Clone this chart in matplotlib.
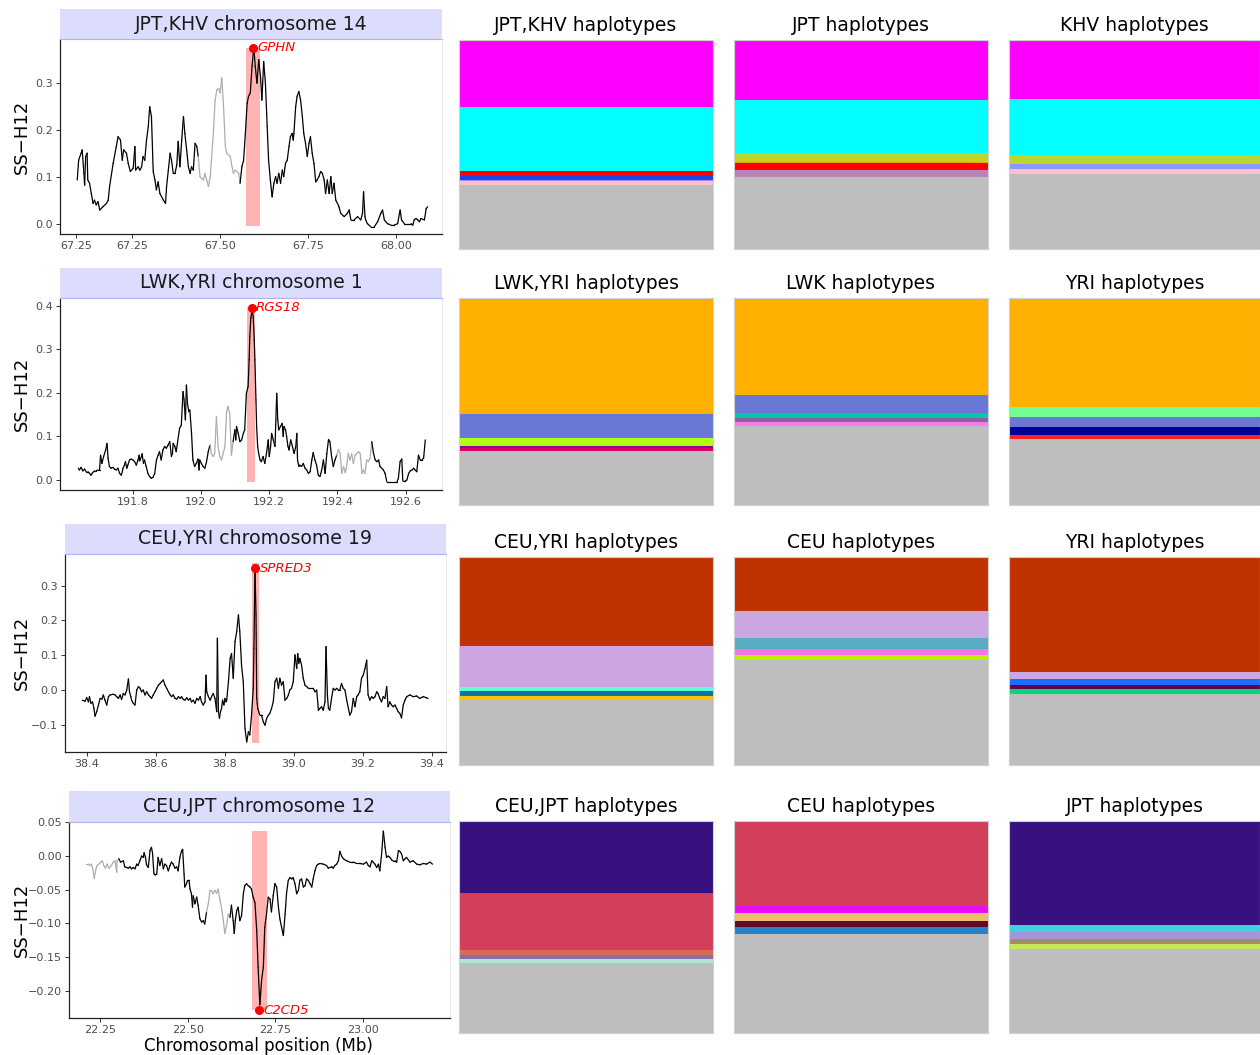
import matplotlib
matplotlib.use("Agg")
import matplotlib.pyplot as plt
from matplotlib.collections import LineCollection
from matplotlib.patches import Rectangle
from matplotlib.ticker import FixedLocator, FuncFormatter

plt.rcParams['font.family'] = ['DejaVu Sans']

# ---------------- Panel 1: JPT,KHV chromosome 14 ----------------
title_1 = "JPT,KHV chromosome 14"
pos_1 = [67.094,67.098,67.105,67.108,67.113,67.115,67.118,67.122,67.124,67.129,
         67.134,67.139,67.143,67.148,67.153,67.158,67.167,67.177,67.182,67.186,
         67.196,67.205,67.210,67.217,67.222,67.226,67.234,67.239,67.245,67.253,
         67.258,67.260,67.267,67.272,67.277,67.281,67.286,67.291,67.296,67.300,
         67.305,67.310,67.315,67.319,67.324,67.329,67.339,67.345,67.348,67.353,
         67.358,67.362,67.367,67.372,67.377,67.381,67.386,67.391,67.396,67.400,
         67.405,67.410,67.415,67.419,67.424,67.429,67.434,67.438,67.443,67.448,
         67.453,67.457,67.462,67.467,67.472,67.481,67.486,67.491,67.496,67.500,
         67.505,67.510,67.515,67.519,67.529,67.534,67.538,67.543,67.553,67.557,
         67.562,67.567,67.572,67.577,67.581,67.586,67.591,67.596,67.600,67.605,
         67.610,67.615,67.619,67.624,67.629,67.634,67.638,67.643,67.648,67.653,
         67.658,67.662,67.667,67.672,67.677,67.681,67.686,67.691,67.696,67.700,
         67.705,67.708,67.710,67.715,67.719,67.724,67.729,67.734,67.738,67.743,
         67.748,67.753,67.757,67.762,67.767,67.772,67.776,67.781,67.786,67.791,
         67.796,67.800,67.805,67.810,67.815,67.819,67.824,67.829,67.834,67.838,
         67.843,67.853,67.862,67.867,67.872,67.881,67.891,67.900,67.905,67.908,
         67.912,67.914,67.919,67.929,67.938,67.948,67.957,67.962,67.967,67.976,
         67.986,67.995,68.005,68.010,68.012,68.016,68.024,68.033,68.043,68.048,
         68.052,68.057,68.062,68.067,68.071,68.081,68.086,68.090]
h12_1 = [0.094,0.136,0.151,0.158,0.108,0.083,0.144,0.151,0.094,0.087,
         0.065,0.044,0.051,0.041,0.048,0.030,0.037,0.044,0.051,0.080,
         0.129,0.165,0.186,0.179,0.136,0.158,0.151,0.129,0.112,0.119,
         0.165,0.115,0.122,0.115,0.122,0.144,0.136,0.179,0.208,0.250,
         0.229,0.112,0.094,0.073,0.090,0.065,0.051,0.044,0.080,0.115,
         0.151,0.136,0.108,0.108,0.126,0.176,0.122,0.179,0.229,0.193,
         0.158,0.122,0.108,0.122,0.115,0.172,0.165,0.144,0.101,0.097,
         0.094,0.108,0.094,0.080,0.101,0.193,0.264,0.286,0.289,0.279,
         0.311,0.250,0.165,0.151,0.144,0.122,0.108,0.115,0.108,0.087,
         0.122,0.136,0.193,0.257,0.272,0.279,0.336,0.376,0.336,0.300,
         0.350,0.314,0.264,0.346,0.300,0.208,0.136,0.094,0.058,0.087,
         0.101,0.087,0.108,0.087,0.115,0.101,0.129,0.136,0.165,0.186,
         0.193,0.179,0.193,0.250,0.272,0.282,0.264,0.229,0.193,0.172,
         0.144,0.172,0.186,0.151,0.129,0.090,0.094,0.101,0.112,0.108,
         0.094,0.065,0.094,0.065,0.101,0.065,0.087,0.051,0.044,0.037,
         0.023,0.016,0.023,0.030,0.009,0.009,0.016,0.009,0.023,0.069,
         0.016,0.009,0.001,-0.006,-0.006,0.005,0.023,0.030,0.009,0.001,
         -0.002,-0.002,0.001,0.023,0.030,0.009,0.001,0.001,0.001,-0.002,
         0.009,0.012,0.009,0.005,0.012,0.009,0.033,0.037]
gray_1 = [(67.440, 67.555)]
box_1 = (67.574, 67.614, -0.004, 0.375)
gene_1 = ("GPHN", 67.594, 0.375)
xticks_1 = [67.09, 67.25, 67.50, 67.75, 68.00]
xlabels_1 = ["67.25", "67.25", "67.50", "67.75", "68.00"]
yticks_1 = [0.0, 0.1, 0.2, 0.3]

# ---------------- Panel 2: LWK,YRI chromosome 1 ----------------
title_2 = "LWK,YRI chromosome 1"
pos_2 = [191.640,191.643,191.648,191.653,191.658,191.663,191.668,191.673,191.677,191.682,
         191.687,191.692,191.697,191.702,191.705,191.709,191.714,191.720,191.724,191.727,
         191.731,191.736,191.741,191.746,191.751,191.756,191.761,191.766,191.771,191.775,
         191.778,191.782,191.785,191.790,191.795,191.800,191.805,191.810,191.815,191.818,
         191.820,191.825,191.827,191.831,191.834,191.839,191.844,191.849,191.854,191.859,
         191.864,191.869,191.874,191.878,191.883,191.888,191.893,191.898,191.903,191.908,
         191.913,191.916,191.918,191.923,191.927,191.937,191.942,191.947,191.950,191.954,
         191.957,191.960,191.964,191.967,191.972,191.976,191.981,191.986,191.991,191.994,
         191.996,192.001,192.006,192.011,192.016,192.021,192.025,192.027,192.030,192.035,
         192.040,192.045,192.050,192.055,192.060,192.065,192.070,192.075,192.079,192.084,
         192.089,192.094,192.099,192.102,192.104,192.109,192.114,192.119,192.124,192.128,
         192.133,192.138,192.141,192.143,192.146,192.150,192.153,192.156,192.158,192.161,
         192.163,192.166,192.169,192.173,192.177,192.182,192.187,192.192,192.197,192.200,
         192.204,192.207,192.212,192.217,192.222,192.225,192.228,192.233,192.238,192.241,
         192.243,192.248,192.251,192.255,192.258,192.263,192.268,192.273,192.278,192.281,
         192.283,192.287,192.290,192.295,192.300,192.305,192.310,192.315,192.320,192.325,
         192.329,192.334,192.339,192.344,192.349,192.354,192.359,192.364,192.369,192.374,
         192.378,192.383,192.388,192.393,192.398,192.403,192.408,192.413,192.418,192.423,
         192.427,192.432,192.437,192.442,192.447,192.452,192.457,192.462,192.467,192.472,
         192.476,192.481,192.486,192.491,192.496,192.501,192.506,192.511,192.516,192.521,
         192.525,192.535,192.540,192.545,192.555,192.565,192.575,192.579,192.584,192.589,
         192.592,192.599,192.604,192.609,192.614,192.619,192.624,192.628,192.633,192.638,
         192.643,192.648,192.653,192.658]
h12_2 = [0.027,0.023,0.029,0.021,0.025,0.019,0.019,0.015,0.011,0.017,
         0.021,0.021,0.023,0.023,0.057,0.038,0.054,0.069,0.084,0.050,
         0.031,0.027,0.029,0.025,0.023,0.027,0.015,0.011,0.027,0.034,
         0.042,0.027,0.034,0.046,0.048,0.046,0.042,0.034,0.046,0.057,
         0.044,0.054,0.060,0.038,0.046,0.031,0.015,0.008,0.004,0.006,
         0.015,0.046,0.057,0.065,0.046,0.069,0.077,0.073,0.080,0.088,
         0.054,0.061,0.084,0.077,0.065,0.119,0.126,0.203,0.184,0.138,
         0.218,0.176,0.157,0.161,0.107,0.046,0.031,0.038,0.048,0.023,
         0.046,0.038,0.031,0.027,0.042,0.065,0.077,0.080,0.061,0.054,
         0.061,0.146,0.077,0.054,0.046,0.061,0.077,0.157,0.169,0.153,
         0.057,0.088,0.115,0.092,0.123,0.107,0.088,0.092,0.107,0.115,
         0.199,0.215,0.276,0.330,0.372,0.390,0.375,0.322,0.276,0.184,
         0.123,0.077,0.061,0.046,0.042,0.054,0.038,0.061,0.092,0.054,
         0.077,0.107,0.092,0.077,0.199,0.138,0.115,0.123,0.130,0.100,
         0.123,0.115,0.100,0.077,0.069,0.092,0.077,0.061,0.077,0.107,
         0.046,0.031,0.034,0.031,0.038,0.027,0.023,0.015,0.019,0.046,
         0.063,0.046,0.034,0.011,0.008,0.023,0.046,0.015,0.061,0.093,
         0.088,0.054,0.031,0.046,0.057,0.070,0.061,0.015,0.031,0.017,
         0.031,0.061,0.046,0.060,0.038,0.057,0.061,0.065,0.061,0.015,
         0.023,0.015,0.046,0.042,0.050,0.088,0.061,0.046,0.042,0.046,
         0.031,0.023,0.015,-0.004,-0.004,-0.004,-0.004,0.004,0.042,0.048,
         -0.002,-0.002,0.000,0.015,0.021,0.023,0.027,0.023,0.019,0.057,
         0.046,0.046,0.050,0.092]
gray_2 = [(192.028, 192.096), (192.398, 192.502)]
box_2 = (192.136, 192.158, -0.004, 0.398)
gene_2 = ("RGS18", 192.148, 0.396)
xticks_2 = [191.8, 192.0, 192.2, 192.4, 192.6]
xlabels_2 = ["191.8", "192.0", "192.2", "192.4", "192.6"]
yticks_2 = [0.0, 0.1, 0.2, 0.3, 0.4]

# ---------------- Panel 3: CEU,YRI chromosome 19 ----------------
title_3 = "CEU,YRI chromosome 19"
pos_3 = [38.386,38.394,38.399,38.404,38.407,38.411,38.416,38.420,38.423,38.428,
         38.433,38.438,38.443,38.447,38.452,38.457,38.462,38.467,38.476,38.481,
         38.486,38.491,38.496,38.500,38.505,38.510,38.515,38.520,38.523,38.527,
         38.529,38.534,38.539,38.544,38.549,38.554,38.558,38.563,38.568,38.573,
         38.578,38.583,38.587,38.592,38.597,38.602,38.607,38.612,38.616,38.621,
         38.626,38.631,38.636,38.641,38.645,38.650,38.655,38.660,38.665,38.670,
         38.674,38.679,38.684,38.689,38.694,38.699,38.703,38.708,38.713,38.718,
         38.723,38.728,38.732,38.737,38.742,38.745,38.747,38.752,38.757,38.761,
         38.766,38.771,38.776,38.778,38.781,38.784,38.787,38.790,38.793,38.797,
         38.800,38.803,38.805,38.810,38.815,38.819,38.824,38.829,38.834,38.839,
         38.843,38.848,38.853,38.858,38.863,38.868,38.872,38.877,38.882,38.884,
         38.887,38.890,38.892,38.895,38.898,38.901,38.906,38.911,38.916,38.921,
         38.926,38.930,38.935,38.940,38.945,38.950,38.955,38.959,38.964,38.969,
         38.974,38.979,38.984,38.988,38.993,38.998,39.003,39.008,39.011,39.014,
         39.017,39.022,39.027,39.032,39.037,39.042,39.046,39.056,39.061,39.066,
         39.071,39.075,39.080,39.085,39.090,39.093,39.097,39.100,39.104,39.109,
         39.114,39.119,39.124,39.129,39.133,39.138,39.143,39.148,39.153,39.158,
         39.162,39.167,39.172,39.177,39.182,39.186,39.191,39.196,39.201,39.206,
         39.211,39.215,39.220,39.225,39.230,39.235,39.240,39.244,39.249,39.254,
         39.259,39.264,39.269,39.273,39.278,39.283,39.288,39.293,39.298,39.302,
         39.307,39.312,39.317,39.322,39.327,39.336,39.346,39.356,39.365,39.375,
         39.384,39.389]
h12_3 = [-0.029,-0.032,-0.022,-0.034,-0.019,-0.038,-0.034,-0.053,-0.075,-0.062,
         -0.043,-0.024,-0.026,-0.014,-0.029,-0.043,-0.019,-0.014,-0.012,-0.014,
         -0.019,-0.024,-0.014,-0.027,-0.010,-0.014,0.000,0.032,-0.005,-0.019,
         -0.029,-0.038,-0.043,0.000,0.010,0.005,-0.005,0.000,-0.014,-0.005,
         -0.014,-0.019,-0.024,-0.014,-0.005,0.005,0.014,0.019,0.024,0.029,
         0.014,0.005,-0.005,-0.014,-0.019,-0.014,-0.024,-0.026,-0.019,-0.024,
         -0.019,-0.027,-0.029,-0.022,-0.029,-0.024,-0.034,-0.029,-0.038,-0.024,
         -0.029,-0.019,-0.034,-0.043,-0.034,0.043,-0.005,-0.019,-0.029,-0.019,
         -0.010,-0.024,-0.062,0.149,-0.062,-0.081,-0.062,-0.053,-0.029,-0.043,
         -0.024,-0.034,-0.029,0.024,0.091,0.105,0.034,0.139,0.168,0.216,
         0.168,0.072,0.024,-0.110,-0.149,-0.120,-0.129,-0.072,0.005,0.120,
         0.345,0.216,-0.024,-0.053,-0.062,-0.072,-0.072,-0.091,-0.101,-0.081,
         -0.072,-0.067,-0.053,-0.034,0.024,0.034,0.005,0.034,0.014,0.024,
         -0.029,-0.024,-0.014,0.000,0.005,0.024,0.101,0.062,0.105,0.077,
         0.091,0.072,0.034,0.014,0.010,0.005,0.005,0.005,-0.005,0.000,
         -0.058,-0.053,-0.048,-0.058,-0.034,0.125,-0.014,-0.053,-0.058,-0.024,
         0.005,0.000,0.005,0.000,0.000,0.019,0.005,0.000,-0.029,-0.053,
         -0.072,-0.062,-0.024,-0.048,-0.019,-0.014,-0.005,0.034,0.043,0.062,
         0.086,-0.014,-0.029,-0.019,-0.024,-0.019,-0.005,-0.010,-0.024,-0.034,
         -0.019,-0.024,0.010,-0.048,-0.034,-0.043,-0.048,-0.043,-0.053,-0.062,
         -0.067,-0.080,-0.043,-0.029,-0.019,-0.014,-0.019,-0.017,-0.024,-0.019,
         -0.022,-0.024]
gray_3 = []
box_3 = (38.879, 38.899, -0.153, 0.364)
gene_3 = ("SPRED3", 38.888, 0.350)
xticks_3 = [38.4, 38.6, 38.8, 39.0, 39.2, 39.4]
xlabels_3 = ["38.4", "38.6", "38.8", "39.0", "39.2", "39.4"]
yticks_3 = [-0.1, 0.0, 0.1, 0.2, 0.3]

# ---------------- Panel 4: CEU,JPT chromosome 12 ----------------
title_4 = "CEU,JPT chromosome 12"
pos_4 = [22.210,22.217,22.221,22.226,22.231,22.234,22.238,22.242,22.247,22.252,
         22.257,22.261,22.266,22.271,22.276,22.283,22.288,22.293,22.298,22.299,
         22.304,22.309,22.317,22.321,22.326,22.331,22.336,22.340,22.345,22.350,
         22.355,22.359,22.364,22.369,22.374,22.376,22.380,22.383,22.388,22.393,
         22.397,22.400,22.404,22.407,22.412,22.416,22.421,22.426,22.431,22.435,
         22.440,22.445,22.450,22.454,22.459,22.464,22.469,22.473,22.478,22.483,
         22.486,22.490,22.492,22.497,22.500,22.504,22.507,22.511,22.514,22.516,
         22.521,22.526,22.530,22.535,22.540,22.545,22.549,22.554,22.559,22.564,
         22.568,22.573,22.578,22.583,22.587,22.592,22.597,22.602,22.606,22.611,
         22.616,22.621,22.625,22.630,22.633,22.636,22.640,22.644,22.649,22.654,
         22.659,22.663,22.668,22.673,22.678,22.682,22.687,22.692,22.697,22.701,
         22.706,22.711,22.716,22.720,22.725,22.730,22.735,22.739,22.744,22.749,
         22.754,22.759,22.763,22.768,22.773,22.778,22.782,22.787,22.792,22.797,
         22.801,22.806,22.811,22.816,22.820,22.825,22.830,22.835,22.839,22.844,
         22.849,22.854,22.858,22.863,22.868,22.873,22.877,22.887,22.896,22.901,
         22.906,22.911,22.915,22.920,22.925,22.930,22.934,22.939,22.944,22.953,
         22.963,22.972,22.982,22.991,23.001,23.010,23.015,23.020,23.025,23.029,
         23.034,23.039,23.044,23.048,23.053,23.058,23.063,23.067,23.072,23.077,
         23.082,23.086,23.091,23.096,23.101,23.105,23.110,23.115,23.120,23.124,
         23.134,23.143,23.153,23.162,23.172,23.181,23.191,23.198]
h12_4 = [-0.012,-0.012,-0.014,-0.012,-0.022,-0.033,-0.021,-0.014,-0.012,-0.009,
         -0.007,-0.014,-0.018,-0.012,-0.018,-0.014,-0.009,-0.007,-0.024,-0.007,
         -0.004,-0.009,-0.007,-0.016,-0.017,-0.018,-0.016,-0.019,-0.017,-0.019,
         -0.012,-0.014,-0.007,0.000,-0.002,0.005,-0.002,-0.013,-0.017,0.008,
         0.013,0.005,-0.026,-0.028,-0.027,-0.002,-0.014,-0.004,-0.019,-0.012,
         -0.014,-0.022,-0.014,-0.009,-0.012,-0.018,-0.016,-0.022,-0.002,0.008,
         0.010,-0.027,-0.046,-0.041,-0.036,-0.036,-0.049,-0.056,-0.076,-0.059,
         -0.071,-0.061,-0.073,-0.093,-0.098,-0.096,-0.101,-0.083,-0.071,-0.051,
         -0.051,-0.056,-0.051,-0.055,-0.049,-0.064,-0.078,-0.096,-0.115,-0.103,
         -0.086,-0.091,-0.073,-0.096,-0.115,-0.096,-0.081,-0.076,-0.096,-0.088,
         -0.056,-0.044,-0.041,-0.044,-0.046,-0.049,-0.061,-0.069,-0.110,-0.165,
         -0.221,-0.184,-0.165,-0.106,-0.086,-0.061,-0.064,-0.083,-0.059,-0.041,
         -0.046,-0.076,-0.093,-0.106,-0.118,-0.086,-0.056,-0.036,-0.032,-0.034,
         -0.032,-0.041,-0.056,-0.051,-0.036,-0.034,-0.046,-0.044,-0.034,-0.036,
         -0.041,-0.046,-0.034,-0.022,-0.014,-0.012,-0.011,-0.012,-0.014,-0.018,
         -0.017,-0.016,-0.018,-0.014,-0.012,-0.007,0.007,0.000,-0.004,-0.007,
         -0.009,-0.009,-0.011,-0.011,-0.012,-0.009,-0.014,-0.016,-0.007,-0.009,
         -0.012,-0.017,-0.012,-0.022,0.003,0.037,0.013,-0.002,0.000,-0.002,
         -0.006,-0.007,-0.007,-0.009,0.008,0.007,0.003,-0.007,-0.004,-0.002,
         -0.009,-0.007,-0.012,-0.013,-0.011,-0.012,-0.009,-0.012]
gray_4 = [(22.200, 22.305), (22.556, 22.622)]
box_4 = (22.684, 22.725, -0.229, 0.0365)
gene_4 = ("C2CD5", 22.704, -0.229)
xticks_4 = [22.25, 22.50, 22.75, 23.00]
xlabels_4 = ["22.25", "22.50", "22.75", "23.00"]
yticks_4 = [-0.20, -0.15, -0.10, -0.05, 0.00, 0.05]

# ---------------- Haplotype frequency bars (top to bottom) ----------------
hap_titles = [["JPT,KHV haplotypes", "JPT haplotypes", "KHV haplotypes"],
              ["LWK,YRI haplotypes", "LWK haplotypes", "YRI haplotypes"],
              ["CEU,YRI haplotypes", "CEU haplotypes", "YRI haplotypes"],
              ["CEU,JPT haplotypes", "CEU haplotypes", "JPT haplotypes"]]
freq_jk_all = [0.320, 0.307, 0.022, 0.019, 0.005, 0.019]
col_jk_all = ['#FF00FF', '#00FFFF', '#FF0000', '#1A44E6', '#9D8CFF', '#FFC0CB']
freq_jpt1 = [0.287, 0.255, 0.041, 0.005, 0.032, 0.035]
col_jpt1 = ['#FF00FF', '#00FFFF', '#BDD62B', '#E8A000', '#FF0000', '#BB80B4']
freq_khv = [0.282, 0.268, 0.041, 0.025, 0.024]
col_khv = ['#FF00FF', '#00FFFF', '#BDD62B', '#8899FF', '#FFC0CB']
freq_ly_all = [0.561, 0.117, 0.035, 0.011, 0.016]
col_ly_all = ['#FFB000', '#6878D4', '#AEFF1A', '#8F0095', '#D9006C']
freq_lwk = [0.469, 0.087, 0.026, 0.019, 0.019]
col_lwk = ['#FFB000', '#6878D4', '#00C9A5', '#8F5FA2', '#F37CF2']
freq_yri1 = [0.527, 0.050, 0.047, 0.039, 0.019]
col_yri1 = ['#FFB000', '#70FF93', '#6878D4', '#000096', '#FF2020']
freq_cy_all = [0.426, 0.200, 0.019, 0.021, 0.018]
col_cy_all = ['#C03300', '#CBA6E3', '#5FFFD7', '#0A73A8', '#FFC200']
freq_ceu1 = [0.261, 0.128, 0.054, 0.027, 0.024]
col_ceu1 = ['#C03300', '#CBA6E3', '#5AACC2', '#F472EC', '#BFF000']
freq_yri2 = [0.554, 0.034, 0.027, 0.022, 0.021]
col_yri2 = ['#C03300', '#CBA6E3', '#1E6BFF', '#640055', '#00D67A']
freq_cj_all = [0.338, 0.270, 0.024, 0.019, 0.017]
col_cj_all = ['#36117F', '#D33F5B', '#D46E52', '#8B6CA3', '#B3E6D2']
freq_ceu2 = [0.400, 0.036, 0.035, 0.030, 0.031]
col_ceu2 = ['#D33F5B', '#E80CF8', '#EAC06E', '#5E0A2A', '#2381C9']
freq_jpt2 = [0.490, 0.035, 0.031, 0.024, 0.024]
col_jpt2 = ['#36117F', '#3FCFE0', '#A595D8', '#A19065', '#C6E85B']
other_color = '#BEBEBE'

hap_freqs = [[freq_jk_all, freq_jpt1, freq_khv],
             [freq_ly_all, freq_lwk, freq_yri1],
             [freq_cy_all, freq_ceu1, freq_yri2],
             [freq_cj_all, freq_ceu2, freq_jpt2]]
hap_cols = [[col_jk_all, col_jpt1, col_khv],
            [col_ly_all, col_lwk, col_yri1],
            [col_cy_all, col_ceu1, col_yri2],
            [col_cj_all, col_ceu2, col_jpt2]]

# ---------------- Layout ----------------
W, H = 1260, 1055
fig = plt.figure(figsize=(W / 100, H / 100), dpi=100)


def px_axes(x0, y0, x1, y1):
    return fig.add_axes([x0 / W, 1 - y1 / H, (x1 - x0) / W, (y1 - y0) / H])


def minus_fmt(fmt):
    return FuncFormatter(lambda v, p: (fmt % v).replace('-', '\u2212'))


line_panels = [
    dict(title=title_1, x=pos_1, y=h12_1, gray=gray_1, box=box_1, gene=gene_1,
         xt=xticks_1, xl=xlabels_1, yt=yticks_1, yf='%.1f',
         xlim=(67.045, 68.131), ylim=(-0.021, 0.394),
         ax=(60, 39, 442, 234), strip=(60, 9, 442, 39)),
    dict(title=title_2, x=pos_2, y=h12_2, gray=gray_2, box=box_2, gene=gene_2,
         xt=xticks_2, xl=xlabels_2, yt=yticks_2, yf='%.1f',
         xlim=(191.586, 192.707), ylim=(-0.023, 0.418),
         ax=(60, 298, 442, 490), strip=(60, 268, 442, 298)),
    dict(title=title_3, x=pos_3, y=h12_3, gray=gray_3, box=box_3, gene=gene_3,
         xt=xticks_3, xl=xlabels_3, yt=yticks_3, yf='%.1f',
         xlim=(38.336, 39.441), ylim=(-0.178, 0.391),
         ax=(65, 554, 446, 752), strip=(65, 524, 446, 554)),
    dict(title=title_4, x=pos_4, y=h12_4, gray=gray_4, box=box_4, gene=gene_4,
         xt=xticks_4, xl=xlabels_4, yt=yticks_4, yf='%.2f',
         xlim=(22.162, 23.248), ylim=(-0.2406, 0.0506),
         ax=(69, 822, 450, 1018), strip=(69, 791, 450, 822)),
]

for i, p in enumerate(line_panels):
    ax = px_axes(*p['ax'])
    xs, ys = p['x'], p['y']
    segs, cols = [], []
    for j in range(len(xs) - 1):
        mid = 0.5 * (xs[j] + xs[j + 1])
        is_gray = any(a <= mid <= b for a, b in p['gray'])
        segs.append([(xs[j], ys[j]), (xs[j + 1], ys[j + 1])])
        cols.append('#ADADAD' if is_gray else 'black')
    bx0, bx1, by0, by1 = p['box']
    ax.add_patch(Rectangle((bx0, by0), bx1 - bx0, by1 - by0,
                           facecolor='#FFB3B3', edgecolor='none', zorder=1))
    lc = LineCollection(segs, colors=cols, linewidths=0.9, zorder=2,
                        capstyle='round', joinstyle='round')
    ax.add_collection(lc)
    gname, gx, gy = p['gene']
    ax.plot([gx], [gy], 'o', color='#FF0000', markersize=5.5, zorder=3,
            clip_on=False)
    ax.annotate(gname, (gx, gy), xytext=(3, 0), textcoords='offset points',
                ha='left', va='center', color='#FF0000', fontsize=9.5,
                fontstyle='italic', zorder=4)
    ax.set_xlim(*p['xlim'])
    ax.set_ylim(*p['ylim'])
    ax.xaxis.set_major_locator(FixedLocator(p['xt']))
    ax.set_xticklabels(p['xl'])
    ax.yaxis.set_major_locator(FixedLocator(p['yt']))
    ax.yaxis.set_major_formatter(minus_fmt(p['yf']))
    ax.spines['top'].set_visible(False)
    ax.spines['right'].set_color('#E4E4E4')
    ax.spines['right'].set_linewidth(0.6)
    for s in ['left', 'bottom']:
        ax.spines[s].set_color('#222222')
        ax.spines[s].set_linewidth(0.9)
    ax.tick_params(axis='both', labelsize=8, labelcolor='#4D4D4D',
                   color='#333333', length=3, width=0.7, pad=2)
    ax.set_facecolor('white')
    # strip
    sx0, sy0, sx1, sy1 = p['strip']
    sax = px_axes(sx0, sy0, sx1, sy1)
    sax.set_facecolor('#DCDCFC')
    sax.set_xticks([])
    sax.set_yticks([])
    for s in ['top', 'left', 'right']:
        sax.spines[s].set_visible(False)
    sax.spines['bottom'].set_color('#B4B4EC')
    sax.spines['bottom'].set_linewidth(0.8)
    sax.text(0.5, 0.5, p['title'], ha='center', va='center',
             fontsize=13.6, color='#1A1A1A', transform=sax.transAxes)
    # y label
    cy = 0.5 * (p['ax'][1] + p['ax'][3])
    fig.text(22 / W, 1 - cy / H, 'SS\u2212H12', rotation=90, ha='center',
             va='center', fontsize=13, color='black')

# x label at bottom
fig.text(258 / W, 1 - 1046 / H, 'Chromosomal position (Mb)', ha='center',
         va='center', fontsize=12, color='black')

# haplotype bar panels
col_x = [(459, 713), (734, 988), (1009, 1260)]
row_y = [(40, 249), (298, 505), (557, 765), (821, 1033)]
for r in range(4):
    for c in range(3):
        x0, x1 = col_x[c]
        y0, y1 = row_y[r]
        ax = px_axes(x0, y0, x1, y1)
        freqs = hap_freqs[r][c]
        colors = hap_cols[r][c]
        top = 1.0
        for f, colr in zip(freqs, colors):
            ax.bar(0, f, width=1, bottom=top - f, align='edge',
                   color=colr, edgecolor='none', linewidth=0)
            top -= f
        ax.bar(0, top, width=1, bottom=0, align='edge',
               color=other_color, edgecolor='none', linewidth=0)
        ax.set_xlim(0, 1)
        ax.set_ylim(0, 1)
        ax.set_xticks([])
        ax.set_yticks([])
        for s in ax.spines.values():
            s.set_color('#D0D0D0')
            s.set_linewidth(0.8)
        ax.set_title(hap_titles[r][c], fontsize=13.5, color='black', pad=6.5)

fig.savefig('out.png', dpi=100, facecolor='white')
